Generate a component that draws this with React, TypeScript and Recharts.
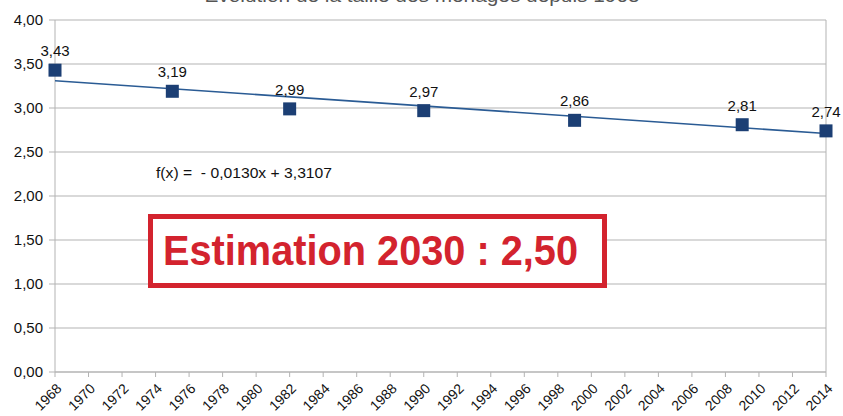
import { ScatterChart, Scatter, XAxis, YAxis, CartesianGrid, ReferenceLine } from "recharts";

const years = [1968, 1975, 1982, 1990, 1999, 2009, 2014];
const householdSize = [3.43, 3.19, 2.99, 2.97, 2.86, 2.81, 2.74];
const trendYears = [1968, 2014];
const trendValues = [3.31, 2.71];
const xTicks = [
  1968, 1970, 1972, 1974, 1976, 1978, 1980, 1982, 1984, 1986, 1988, 1990,
  1992, 1994, 1996, 1998, 2000, 2002, 2004, 2006, 2008, 2010, 2012, 2014,
];
const yTicks = [0, 0.5, 1, 1.5, 2, 2.5, 3, 3.5, 4];

const points = years.map((x, i) => ({ x, y: householdSize[i] }));
const trend = trendYears.map((x, i) => ({ x, y: trendValues[i] }));

const FONT = "'Liberation Sans', Arial, sans-serif";
const fmt = (v: number) => v.toFixed(2).replace(".", ",");

const SquareWithLabel = (props: any) => {
  const { cx, cy, payload } = props;
  return (
    <g>
      <rect x={cx - 6.5} y={cy - 6.5} width={13} height={13} fill="#1c3f74" />
      <text x={cx} y={cy - 14} textAnchor="middle" fontSize={15} fill="#111" fontFamily={FONT}>
        {fmt(payload.y)}
      </text>
    </g>
  );
};

const YearTick = (props: any) => {
  const { x, y, payload } = props;
  return (
    <text
      x={0}
      y={0}
      transform={`translate(${x + 4},${y + 7}) rotate(-45)`}
      textAnchor="end"
      dy="0.35em"
      fontSize={14}
      fill="#111"
      fontFamily={FONT}
    >
      {payload.value}
    </text>
  );
};

export default function App() {
  return (
    <div style={{ position: "absolute", left: 0, top: 0, width: 843, height: 416, background: "#fff" }}>
      <ScatterChart width={843} height={416} margin={{ top: 20, right: 17, bottom: 0, left: 0 }}>
        <CartesianGrid vertical={false} stroke="#b3b3b3" />
        <XAxis
          type="number"
          dataKey="x"
          domain={[1968, 2014]}
          ticks={xTicks}
          interval={0}
          height={44}
          stroke="#b3b3b3"
          tickSize={5}
          tick={<YearTick />}
        />
        <YAxis
          type="number"
          dataKey="y"
          domain={[0, 4]}
          ticks={yTicks}
          width={55}
          stroke="#b3b3b3"
          tickSize={6}
          tickMargin={6}
          tickFormatter={fmt}
          tick={{ fontSize: 15, fill: "#111", fontFamily: FONT }}
        />
        <ReferenceLine x={2014} stroke="#b3b3b3" />
        <Scatter
          data={trend}
          line={{ stroke: "#2a5b94", strokeWidth: 1.6 }}
          shape={() => null}
          isAnimationActive={false}
        />
        <Scatter data={points} shape={<SquareWithLabel />} isAnimationActive={false} />
      </ScatterChart>
      <svg
        width={843}
        height={416}
        style={{ position: "absolute", left: 0, top: 0, pointerEvents: "none" }}
      >
        <text x={422} y={2} textAnchor="middle" fontSize={18} fill="#555" fontFamily={FONT} textLength={435} lengthAdjust="spacingAndGlyphs">
          Evolution de la taille des ménages depuis 1968
        </text>
        <text x={156} y={178} fontSize={15} fill="#111" fontFamily={FONT} textLength={176} lengthAdjust="spacingAndGlyphs" xmlSpace="preserve">
          f(x) =  - 0,0130x + 3,3107
        </text>
        <rect x={150.5} y={216.5} width={454} height={69} fill="#fff" stroke="#d3232e" strokeWidth={5} />
        <text x={163} y={265} fontSize={43} fontWeight="bold" fill="#d3232e" fontFamily={FONT} textLength={415} lengthAdjust="spacingAndGlyphs">
          Estimation 2030 : 2,50
        </text>
      </svg>
    </div>
  );
}
